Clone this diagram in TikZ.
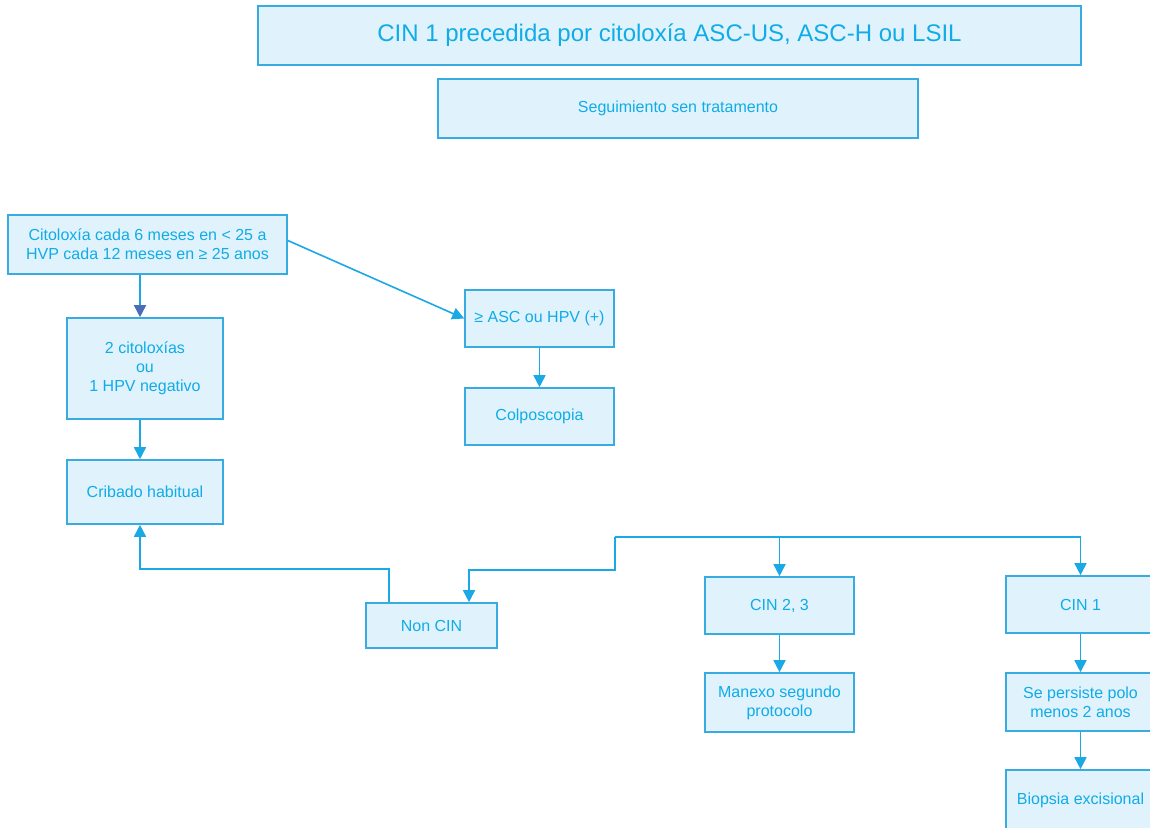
\documentclass[tikz,border=0pt]{standalone}
\usepackage{fontspec}
\setmainfont{Liberation Sans}
\usetikzlibrary{arrows.meta}
\definecolor{boxedge}{HTML}{38ABE0}
\definecolor{boxfill}{HTML}{E0F2FC}
\definecolor{boxtext}{HTML}{10ACE8}
\definecolor{linkcol}{HTML}{1AA9E4}
\definecolor{darktip}{HTML}{4A6DB3}
\begin{document}
\begin{tikzpicture}[x=1pt,y=-1pt,
  box/.style={draw=boxedge, fill=boxfill, line width=1.6pt, text=boxtext,
    align=center, inner sep=0pt, font=\fontsize{16}{19}\selectfont},
  link/.style={draw=linkcol, line width=1.6pt,
    -{Triangle[length=12pt,width=12pt]}},
  plain/.style={draw=linkcol, line width=1.6pt}]
\useasboundingbox (0,0) rectangle (1150,827);

% header boxes
\node[box, minimum width=823, minimum height=59, font=\fontsize{24}{28}\selectfont]
  (title) at (669.5,35.5) {CIN 1 precedida por citoloxía ASC-US, ASC-H ou LSIL};
\node[box, minimum width=480, minimum height=59] (follow) at (678,108.5)
  {Seguimiento sen tratamento};

% left column
\node[box, minimum width=279, minimum height=59] (cito) at (147.5,244.5)
  {Citoloxía cada 6 meses en < 25 a\\HVP cada 12 meses en ≥ 25 anos};
\node[box, minimum width=156, minimum height=101] (neg) at (145,368.5)
  {2 citoloxías\\ou\\1 HPV negativo};
\node[box, minimum width=156, minimum height=64] (crib) at (145,492)
  {Cribado habitual};

% middle column
\node[box, minimum width=149, minimum height=57] (asc) at (539.5,318.5)
  {≥ ASC ou HPV (+)};
\node[box, minimum width=149, minimum height=57] (colpo) at (539.5,416.5)
  {Colposcopia};

% lower row
\node[box, minimum width=131, minimum height=45] (noncin) at (431.5,625.5)
  {Non CIN};
\node[box, minimum width=149, minimum height=57] (cin23) at (779.5,605.5)
  {CIN 2, 3};
\node[box, minimum width=149, minimum height=59] (manexo) at (779.5,702.5)
  {Manexo segundo\\protocolo};
\node[box, minimum width=149, minimum height=57] (cin1) at (1080.5,604.5)
  {CIN 1};
\node[box, minimum width=149, minimum height=58] (persist) at (1080.5,702)
  {Se persiste polo\\menos 2 anos};
\node[box, minimum width=149, minimum height=60] (biop) at (1080.5,800)
  {Biopsia excisional};

% connectors
\coordinate (leftx) at ([xshift=-5pt]neg.north);
\draw[plain, -{Triangle[length=12pt,width=12pt,color=darktip]}]
  (leftx |- cito.south) -- (leftx);
\draw[link] ([yshift=4pt]cito.east) -- (asc.west);
\draw[link] (asc.south) -- (colpo.north);
\draw[link] (leftx |- neg.south) -- (leftx |- crib.north);
\draw[link] ([xshift=-42.5pt]noncin.north) -- ++(0,-33) -| (leftx |- crib.south);

% branch line towards the lower row
\coordinate (brL) at (615,537);
\coordinate (brR) at (1080.5,537);
\draw[plain] (brL) -- (brR);
\draw[link] (brL) -- ++(0,33) -| ([xshift=37.5pt]noncin.north);
\draw[link] (cin23.north |- brL) -- (cin23.north);
\draw[link] (brR) -- (cin1.north);
\draw[link] (cin23.south) -- (manexo.north);
\draw[link] (cin1.south) -- (persist.north);
\draw[link] (persist.south) -- (biop.north);
\end{tikzpicture}
\end{document}
